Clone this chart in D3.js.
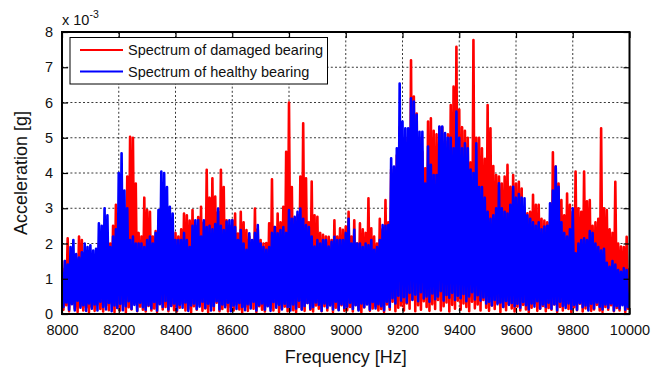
<!DOCTYPE html>
<html>
<head>
<meta charset="utf-8">
<script src="https://cdn.jsdelivr.net/npm/d3@7"></script>
<style>
  html, body { margin: 0; padding: 0; background: #fff; }
  svg { display: block; font-family: "Liberation Sans", Arial, Helvetica, sans-serif; }
</style>
</head>
<body>
<svg id="chart" width="658" height="370"></svg>
<script>
// Amplitude spectra, sampled every 5 Hz from 8000 Hz to 10000 Hz (units: 1e-3 g)
const freqStart = 8000;
const freqStep = 5;

const damaged = [
  1.3,0.12, 1.5,0.25, 2.15,0.08, 1.6,0.3, 1.4,0.15, 1.5,0.06, 2.2,0.22, 2.1,0.1, 1.6,0.18, 1.7,0.05,          // 8000
  1.5,0.2, 1.6,0.09, 1.7,0.28, 2.0,0.14, 2.2,0.07, 2.0,0.24, 2.1,0.11, 2.0,0.3, 2.5,0.06, 3.1,0.17,           // 8100
  2.8,0.1, 2.4,0.26, 2.6,0.05, 3.9,0.19, 5.03,0.13, 5.0,0.33, 3.7,0.08, 2.3,0.21, 2.2,0.12, 3.3,0.07,         // 8200
  2.95,0.23, 2.9,0.1, 2.2,0.16, 2.35,0.06, 2.0,0.29, 1.9,0.13, 2.1,0.2, 2.0,0.08, 1.9,0.25, 1.8,0.11,        // 8300
  2.3,0.07, 2.2,0.18, 2.4,0.3, 2.85,0.1, 2.8,0.15, 2.65,0.05, 2.95,0.22, 2.5,0.12, 2.75,0.27, 3.04,0.09,      // 8400
  2.6,0.16, 4.09,0.06, 3.3,0.21, 3.85,0.11, 3.33,0.32, 2.9,0.08, 4.09,0.14, 3.6,0.24, 2.66,0.07, 2.5,0.19,    // 8500
  2.66,0.1, 2.85,0.28, 2.28,0.13, 2.9,0.05, 2.6,0.2, 2.38,0.09, 2.2,0.26, 2.0,0.15, 2.99,0.06, 2.4,0.22,      // 8600
  2.1,0.12, 2.0,0.07, 2.01,0.25, 2.57,0.18, 3.82,0.1, 2.47,0.3, 2.85,0.06, 2.6,0.16, 3.04,0.21, 4.6,0.08,     // 8700
  6.0,0.27, 3.6,0.11, 2.7,0.05, 2.8,0.2, 3.9,0.14, 5.41,0.09, 3.85,0.31, 2.6,0.12, 3.76,0.07, 2.8,0.24,       // 8800
  2.76,0.15, 2.3,0.08, 2.25,0.22, 2.2,0.1, 2.19,0.28, 2.1,0.06, 2.66,0.18, 2.2,0.13, 2.43,0.25, 2.39,0.09,    // 8900
  2.48,0.11, 2.9,0.2, 2.2,0.07, 2.66,0.26, 2.0,0.13, 2.57,0.05, 2.4,0.19, 2.3,0.3, 3.28,0.09, 2.43,0.16,      // 9000
  2.2,0.22, 2.0,0.1, 2.7,0.14, 2.4,0.06, 3.23,0.27, 2.6,0.12, 4.1,0.35, 4.0,0.08, 4.5,0.18, 5.3,0.24,         // 9100
  4.6,0.1, 5.0,0.3, 3.7,0.15, 7.2,0.42, 6.17,0.08, 5.69,0.25, 5.0,0.12, 4.6,0.36, 4.13,0.2, 5.46,0.09,        // 9200
  5.55,0.28, 5.2,0.14, 5.1,0.4, 5.3,0.1, 5.3,0.22, 4.9,0.33, 5.1,0.07, 5.93,0.26, 6.45,0.15, 7.58,0.38,       // 9300
  5.8,0.12, 5.3,0.3, 5.2,0.2, 5.0,0.08, 4.3,0.35, 7.77,0.16, 5.0,0.27, 5.0,0.1, 4.7,0.4, 4.4,0.18,            // 9400
  5.93,0.09, 5.27,0.24, 4.2,0.14, 3.94,0.32, 3.9,0.06, 3.7,0.2, 3.9,0.11, 4.23,0.28, 3.61,0.16, 3.94,0.07,    // 9500
  3.7,0.21, 3.75,0.1, 3.56,0.26, 3.0,0.13, 2.86,0.05, 2.9,0.18, 3.38,0.3, 3.1,0.09, 3.1,0.15, 2.7,0.23,       // 9600
  2.65,0.08, 2.6,0.17, 2.6,0.12, 4.59,0.27, 4.18,0.06, 3.7,0.2, 3.23,0.1, 2.8,0.24, 3.42,0.14, 3.1,0.05,      // 9700
  2.9,0.19, 4.04,0.11, 3.0,0.29, 2.9,0.07, 4.04,0.16, 3.2,0.22, 3.23,0.09, 2.5,0.13, 2.6,0.26, 2.7,0.1,       // 9800
  5.27,0.06, 3.0,0.2, 2.95,0.12, 2.4,0.25, 2.3,0.08, 3.75,0.17, 2.0,0.1, 1.91,0.28, 1.9,0.05, 2.19,0.15,      // 9900
  1.3                                                                                                       // 10000
];

const healthy = [
  1.2,0.2, 1.5,0.33, 1.4,0.12, 1.9,0.28, 2.1,0.1, 1.7,0.38, 1.6,0.18, 1.75,0.25, 2.0,0.09, 1.9,0.3,          // 8000
  1.95,0.15, 1.8,0.27, 1.85,0.1, 2.57,0.35, 2.5,0.2, 3.0,0.13, 2.8,0.31, 1.9,0.08, 2.2,0.24, 2.4,0.17,        // 8100
  4.0,0.29, 4.56,0.11, 3.5,0.22, 3.0,0.36, 2.1,0.14, 2.2,0.26, 2.0,0.09, 2.0,0.32, 2.0,0.19, 1.9,0.12,        // 8200
  2.1,0.25, 2.2,0.16, 2.0,0.34, 2.3,0.1, 2.95,0.28, 4.04,0.2, 4.0,0.37, 3.6,0.13, 3.04,0.23, 2.85,0.3,        // 8300
  2.1,0.11, 2.1,0.26, 2.1,0.18, 2.3,0.33, 2.1,0.09, 1.9,0.24, 2.5,0.3, 2.66,0.14, 2.66,0.21, 2.2,0.35,        // 8400
  2.66,0.17, 2.47,0.29, 2.5,0.1, 2.4,0.23, 2.55,0.36, 2.99,0.13, 2.5,0.27, 2.38,0.19, 2.62,0.32, 2.66,0.08,   // 8500
  2.66,0.24, 2.47,0.14, 2.1,0.31, 2.38,0.2, 2.0,0.11, 1.82,0.28, 2.29,0.16, 2.1,0.35, 2.3,0.1, 2.52,0.25,     // 8600
  2.0,0.3, 1.9,0.12, 1.82,0.22, 1.9,0.09, 2.3,0.34, 2.47,0.18, 2.29,0.26, 2.38,0.13, 2.47,0.29, 2.3,0.2,      // 8700
  2.95,0.1, 2.7,0.27, 2.76,0.16, 2.9,0.38, 2.99,0.12, 2.7,0.23, 2.52,0.31, 2.47,0.15, 2.2,0.2, 1.91,0.33,     // 8800
  2.1,0.26, 2.0,0.09, 2.1,0.3, 2.1,0.18, 1.91,0.24, 2.05,0.13, 2.19,0.35, 2.1,0.11, 2.1,0.28, 2.1,0.17,       // 8900
  2.3,0.21, 2.7,0.32, 2.0,0.14, 2.39,0.25, 2.0,0.1, 2.0,0.3, 1.9,0.19, 2.0,0.27, 1.95,0.12, 2.1,0.34,         // 9000
  1.82,0.16, 1.9,0.28, 2.1,0.22, 2.52,0.11, 2.5,0.35, 2.52,0.2, 4.42,0.45, 4.18,0.3, 4.7,0.52, 6.54,0.38,     // 9100
  5.46,0.48, 5.27,0.33, 5.27,0.6, 6.12,0.4, 6.03,0.55, 5.65,0.36, 5.17,0.62, 5.17,0.44, 3.7,0.5, 4.75,0.35,   // 9200
  4.23,0.58, 3.94,0.42, 3.94,0.5, 5.32,0.65, 5.32,0.38, 5.13,0.54, 5.0,0.46, 5.0,0.6, 4.7,0.4, 5.74,0.52,     // 9300
  5.0,0.45, 4.7,0.57, 4.84,0.36, 4.7,0.5, 4.1,0.62, 4.0,0.41, 4.84,0.53, 3.6,0.38, 3.6,0.47, 3.3,0.3,         // 9400
  2.9,0.35, 2.7,0.24, 2.8,0.4, 3.0,0.28, 3.71,0.33, 3.0,0.2, 2.9,0.37, 2.85,0.26, 3.1,0.31, 3.61,0.22,        // 9500
  3.3,0.29, 3.4,0.18, 3.3,0.34, 3.28,0.25, 2.8,0.13, 2.7,0.3, 2.6,0.21, 2.5,0.36, 2.6,0.16, 2.4,0.27,         // 9600
  2.48,0.2, 2.5,0.32, 3.14,0.15, 3.5,0.28, 4.18,0.11, 3.61,0.35, 2.6,0.23, 2.3,0.17, 2.2,0.3, 2.4,0.14,       // 9700
  3.0,0.26, 1.72,0.12, 2.0,0.31, 2.1,0.19, 2.15,0.24, 2.1,0.1, 2.35,0.29, 2.3,0.16, 2.0,0.33, 1.9,0.21,       // 9800
  1.8,0.13, 1.85,0.27, 1.45,0.18, 1.34,0.3, 1.5,0.1, 1.4,0.23, 1.25,0.16, 1.2,0.25, 1.3,0.12, 1.25,0.2,       // 9900
  0.6                                                                                                       // 10000
];

const xTicks = [8000, 8200, 8400, 8600, 8800, 9000, 9200, 9400, 9600, 9800, 10000];
const yTicks = [0, 1, 2, 3, 4, 5, 6, 7, 8];
const seriesNames = ["Spectrum of damaged bearing", "Spectrum of healthy bearing"];
const seriesColors = ["#ff0000", "#0000ff"];

const svg = d3.select("#chart");
const plotLeft = 62, plotRight = 629.5, plotTop = 32, plotBottom = 314;

const x = d3.scaleLinear().domain([8000, 10000]).range([plotLeft, plotRight]);
const y = d3.scaleLinear().domain([0, 8]).range([plotBottom, plotTop]);

svg.append("rect").attr("width", 658).attr("height", 370).attr("fill", "#fff");

// dotted grid beneath the spectra
const grid = svg.append("g").attr("stroke", "#222").attr("stroke-width", 0.9)
  .attr("stroke-dasharray", "2,2.2");
grid.selectAll("line.gx").data(xTicks.slice(1, -1)).join("line")
  .attr("x1", d => x(d)).attr("x2", d => x(d)).attr("y1", plotTop).attr("y2", plotBottom);
grid.selectAll("line.gy").data(yTicks.slice(1, -1)).join("line")
  .attr("x1", plotLeft).attr("x2", plotRight).attr("y1", d => y(d)).attr("y2", d => y(d));

svg.append("clipPath").attr("id", "plotClip")
  .append("rect").attr("x", plotLeft).attr("y", plotTop)
  .attr("width", plotRight - plotLeft).attr("height", plotBottom - plotTop);

const line = d3.line()
  .x((d, i) => x(freqStart + i * freqStep))
  .y(d => y(d));

const plot = svg.append("g").attr("clip-path", "url(#plotClip)");
[damaged, healthy].forEach((series, k) => {
  plot.append("path")
    .datum(series)
    .attr("d", line)
    .attr("fill", "none")
    .attr("stroke", seriesColors[k])
    .attr("stroke-width", 2.6)
    .attr("stroke-linejoin", "round");
});

// axes with inward ticks on all four sides
const fontSize = "14.5px";
const ax = svg.append("g").attr("transform", `translate(0,${plotBottom})`)
  .call(d3.axisBottom(x).tickValues(xTicks).tickFormat(d3.format("d")).tickSize(-6).tickSizeOuter(0).tickPadding(11));
const ay = svg.append("g").attr("transform", `translate(${plotLeft},0)`)
  .call(d3.axisLeft(y).tickValues(yTicks).tickSize(-6).tickSizeOuter(0).tickPadding(9));
const axTop = svg.append("g").attr("transform", `translate(0,${plotTop})`)
  .call(d3.axisTop(x).tickValues(xTicks).tickFormat("").tickSize(-6).tickSizeOuter(0));
const ayRight = svg.append("g").attr("transform", `translate(${plotRight},0)`)
  .call(d3.axisRight(y).tickValues(yTicks).tickFormat("").tickSize(-6).tickSizeOuter(0));

[ax, ay, axTop, ayRight].forEach(g => {
  g.select(".domain").remove();
  g.selectAll(".tick line").attr("stroke", "#000").attr("stroke-width", 1.2);
  g.selectAll("text").attr("fill", "#111").style("font-size", fontSize)
    .style("font-family", '"Liberation Sans", Arial, Helvetica, sans-serif');
});

svg.append("rect")
  .attr("x", plotLeft).attr("y", plotTop)
  .attr("width", plotRight - plotLeft).attr("height", plotBottom - plotTop)
  .attr("fill", "none").attr("stroke", "#000").attr("stroke-width", 2);

// exponent label
const expo = svg.append("text").attr("x", 62).attr("y", 25)
  .attr("fill", "#111").style("font-size", "14.5px");
expo.append("tspan").text("x 10");
expo.append("tspan").attr("dy", -7).style("font-size", "10.5px").text("-3");

// axis titles
svg.append("text")
  .attr("x", (plotLeft + plotRight) / 2).attr("y", 363)
  .attr("text-anchor", "middle").attr("fill", "#111")
  .style("font-size", "18px").text("Frequency [Hz]");
svg.append("text")
  .attr("transform", `translate(27,${(plotTop + plotBottom) / 2}) rotate(-90)`)
  .attr("text-anchor", "middle").attr("fill", "#111")
  .style("font-size", "18px").text("Acceleration [g]");

// legend
const legend = svg.append("g");
legend.append("rect")
  .attr("x", 70).attr("y", 37.5).attr("width", 257.5).attr("height", 46.5)
  .attr("fill", "#fff").attr("stroke", "#000").attr("stroke-width", 1);
seriesNames.forEach((name, k) => {
  const ly = 50 + k * 21.5;
  legend.append("line")
    .attr("x1", 80).attr("x2", 123).attr("y1", ly).attr("y2", ly)
    .attr("stroke", seriesColors[k]).attr("stroke-width", 2);
  legend.append("text")
    .attr("x", 128).attr("y", ly + 5)
    .attr("fill", "#111").style("font-size", "14.5px").text(name);
});
</script>
</body>
</html>
